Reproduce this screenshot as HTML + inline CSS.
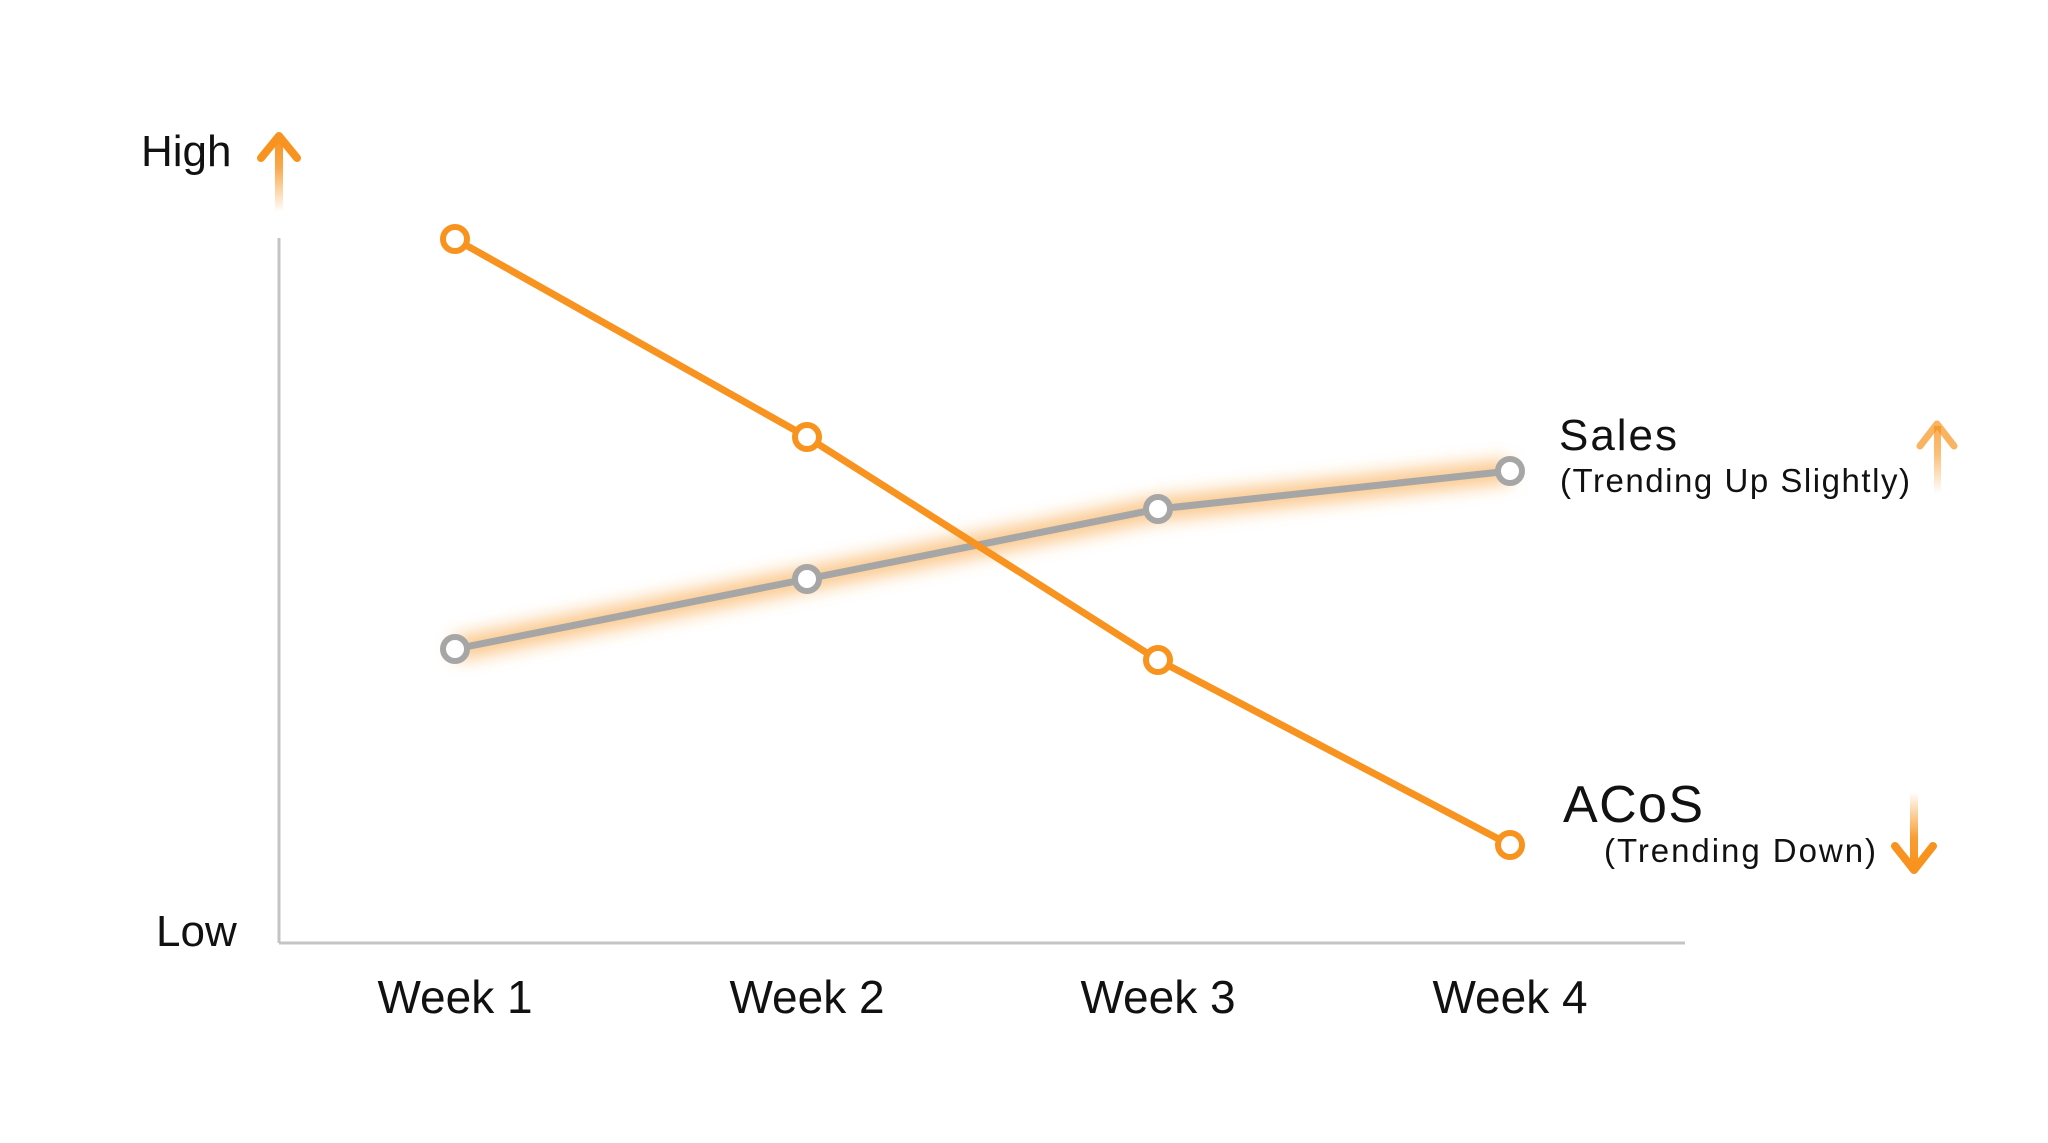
<!DOCTYPE html>
<html><head><meta charset="utf-8"><style>
html,body{margin:0;padding:0;background:#fff;}
svg{display:block;}
text{font-family:"Liberation Sans",sans-serif;fill:#111;}
</style></head><body>
<svg width="2048" height="1143" viewBox="0 0 2048 1143" xmlns="http://www.w3.org/2000/svg">
<defs>
<filter id="glow" x="-20%" y="-50%" width="140%" height="200%"><feGaussianBlur stdDeviation="9"/></filter>
<linearGradient id="fu" x1="0" y1="1" x2="0" y2="0"><stop offset="0" stop-color="#f7931e" stop-opacity="0"/><stop offset="0.6" stop-color="#f7931e" stop-opacity="0.8"/><stop offset="1" stop-color="#f7931e"/></linearGradient>
<linearGradient id="fd" x1="0" y1="0" x2="0" y2="1"><stop offset="0" stop-color="#f7931e" stop-opacity="0"/><stop offset="0.6" stop-color="#f7931e" stop-opacity="0.9"/><stop offset="1" stop-color="#f7931e"/></linearGradient>
</defs>
<rect width="2048" height="1143" fill="#fff"/>
<line x1="279" y1="238" x2="279" y2="943" stroke="#c4c4c4" stroke-width="3"/>
<line x1="279" y1="943" x2="1685" y2="943" stroke="#c4c4c4" stroke-width="3"/>
<!-- High arrow -->
<rect x="275" y="138" width="8" height="74" fill="url(#fu)"/>
<path d="M261 158 L279 136 L297 158" stroke="#f7931e" stroke-width="8" fill="none" stroke-linecap="round" stroke-linejoin="round"/>
<text x="141" y="166" font-size="44">High</text>
<text x="156" y="946" font-size="44">Low</text>
<polyline points="455,649 807,579 1158,509 1510,471" stroke="#f7931e" stroke-width="22" fill="none" opacity="0.55" filter="url(#glow)"/>
<polyline points="455,649 807,579 1158,509 1510,471" stroke="#a6a6a6" stroke-width="7" fill="none"/>
<g fill="#fff" stroke="#a6a6a6" stroke-width="6">
<circle cx="455" cy="649" r="12"/><circle cx="807" cy="579" r="12"/><circle cx="1158" cy="509" r="12"/><circle cx="1510" cy="471" r="12"/></g>
<polyline points="455,239 807,437 1158,660 1510,845" stroke="#f7931e" stroke-width="7" fill="none"/>
<g fill="#fff" stroke="#f7931e" stroke-width="6">
<circle cx="455" cy="239" r="12"/><circle cx="807" cy="437" r="12"/><circle cx="1158" cy="660" r="12"/><circle cx="1510" cy="845" r="12"/></g>
<g font-size="46" text-anchor="middle">
<text x="455" y="1013">Week 1</text><text x="807" y="1013">Week 2</text><text x="1158" y="1013">Week 3</text><text x="1510" y="1013">Week 4</text></g>
<text x="1559" y="450" font-size="44" textLength="118">Sales</text>
<text x="1560" y="492" font-size="33" textLength="350">(Trending Up Slightly)</text>
<rect x="1934" y="426" width="7" height="68" fill="url(#fu)" opacity="0.75"/>
<path d="M1920 446 L1937 424 L1954 446" stroke="#f7931e" stroke-width="7" fill="none" stroke-linecap="round" stroke-linejoin="round" opacity="0.7"/>
<text x="1563" y="822" font-size="52" textLength="140">ACoS</text>
<text x="1604" y="862" font-size="33" textLength="272">(Trending Down)</text>
<rect x="1910" y="792" width="8" height="76" fill="url(#fd)"/>
<path d="M1895 846 L1914 870 L1933 846" stroke="#f7931e" stroke-width="8" fill="none" stroke-linecap="round" stroke-linejoin="round"/>
</svg>
</body></html>
